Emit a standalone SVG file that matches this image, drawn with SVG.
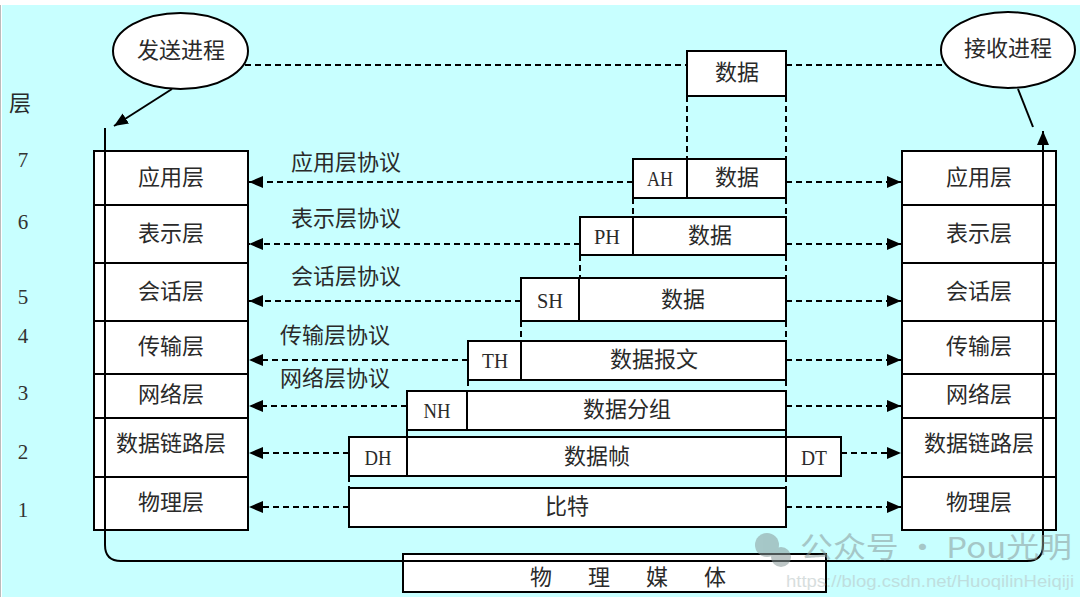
<svg xmlns="http://www.w3.org/2000/svg" width="1080" height="597" viewBox="0 0 1080 597">
<defs>
<marker id="ah" markerUnits="userSpaceOnUse" markerWidth="16" markerHeight="14" refX="14" refY="6" orient="auto">
<path d="M0,0 L14,6 L0,12 Z" fill="#000"/>
</marker>
</defs>
<style>
.box{fill:#fff;stroke:#000;stroke-width:2}
.div{stroke:#000;stroke-width:2}
.dash{stroke:#000;stroke-width:2;stroke-dasharray:6 4;fill:none}
.arr{stroke:#000;stroke-width:2;stroke-dasharray:6 4;fill:none;marker-end:url(#ah)}
.cj{font-family:"Noto Sans CJK SC","Noto Sans",sans-serif;font-size:22px;fill:#2a2a2a;text-anchor:middle;dominant-baseline:central}
.sf{font-family:"Liberation Serif",serif;font-size:22px;fill:#2a2a2a;text-anchor:middle;dominant-baseline:central}
.num{font-family:"Liberation Serif",serif;font-size:21px;fill:#333;text-anchor:middle;dominant-baseline:central}
.ln{stroke:#000;stroke-width:2;fill:none}
</style>
<rect x="0" y="0" width="1080" height="597" fill="#fff"/>
<rect x="2" y="5" width="1078" height="592" fill="#C8FFFF"/>
<line x1="0.5" y1="5" x2="0.5" y2="597" stroke="#bbb" stroke-width="1"/>

<g id="layer-axis">
<text class="cj" x="20" y="101">层</text>
<text class="num" x="23" y="160">7</text>
<text class="num" x="23" y="222">6</text>
<text class="num" x="23" y="297">5</text>
<text class="num" x="23" y="336">4</text>
<text class="num" x="23" y="393">3</text>
<text class="num" x="23" y="452">2</text>
<text class="num" x="23" y="510">1</text>
</g>

<g id="send-process">
<ellipse cx="180.5" cy="51" rx="67.5" ry="38" fill="#fff" stroke="#000" stroke-width="2"/>
<text class="cj" x="181" y="48">发送进程</text>
</g>
<g id="recv-process">
<ellipse cx="1008" cy="50" rx="67" ry="38" fill="#fff" stroke="#000" stroke-width="2"/>
<text class="cj" x="1008" y="46">接收进程</text>
</g>

<g id="left-stack">
<rect class="box" x="94" y="151" width="154" height="379"/>
<line class="div" x1="94" y1="205" x2="248" y2="205"/>
<line class="div" x1="94" y1="263" x2="248" y2="263"/>
<line class="div" x1="94" y1="321" x2="248" y2="321"/>
<line class="div" x1="94" y1="374" x2="248" y2="374"/>
<line class="div" x1="94" y1="418" x2="248" y2="418"/>
<line class="div" x1="94" y1="477" x2="248" y2="477"/>
<text class="cj" x="171" y="175">应用层</text>
<text class="cj" x="171" y="231">表示层</text>
<text class="cj" x="171" y="289">会话层</text>
<text class="cj" x="171" y="344">传输层</text>
<text class="cj" x="171" y="392">网络层</text>
<text class="cj" x="171" y="441">数据链路层</text>
<text class="cj" x="171" y="500">物理层</text>
</g>

<g id="right-stack">
<rect class="box" x="902" y="151" width="154" height="379"/>
<line class="div" x1="902" y1="205" x2="1056" y2="205"/>
<line class="div" x1="902" y1="263" x2="1056" y2="263"/>
<line class="div" x1="902" y1="321" x2="1056" y2="321"/>
<line class="div" x1="902" y1="374" x2="1056" y2="374"/>
<line class="div" x1="902" y1="418" x2="1056" y2="418"/>
<line class="div" x1="902" y1="477" x2="1056" y2="477"/>
<text class="cj" x="979" y="175">应用层</text>
<text class="cj" x="979" y="231">表示层</text>
<text class="cj" x="979" y="289">会话层</text>
<text class="cj" x="979" y="344">传输层</text>
<text class="cj" x="979" y="392">网络层</text>
<text class="cj" x="979" y="441">数据链路层</text>
<text class="cj" x="979" y="500">物理层</text>
</g>

<g id="medium">
<rect class="box" x="403" y="554" width="423" height="38"/>
<text class="cj" x="541 599 657 715" y="575">物理媒体</text>
</g>

<g id="pdu-data">
<rect class="box" x="687" y="51" width="99" height="45"/>
<text class="cj" x="737" y="70">数据</text>
</g>
<g id="pdu-ah">
<rect class="box" x="633" y="159" width="153" height="39"/>
<line class="div" x1="687" y1="159" x2="687" y2="198"/>
<text class="sf" x="660" y="178" textLength="26" lengthAdjust="spacingAndGlyphs">AH</text>
<text class="cj" x="737" y="175">数据</text>
</g>
<g id="pdu-ph">
<rect class="box" x="580" y="217" width="206" height="38"/>
<line class="div" x1="633" y1="217" x2="633" y2="255"/>
<text class="sf" x="607" y="236" textLength="26" lengthAdjust="spacingAndGlyphs">PH</text>
<text class="cj" x="710" y="233">数据</text>
</g>
<g id="pdu-sh">
<rect class="box" x="521" y="278" width="265" height="43"/>
<line class="div" x1="579" y1="278" x2="579" y2="321"/>
<text class="sf" x="550" y="300" textLength="26" lengthAdjust="spacingAndGlyphs">SH</text>
<text class="cj" x="683" y="297">数据</text>
</g>
<g id="pdu-th">
<rect class="box" x="468" y="341" width="318" height="39"/>
<line class="div" x1="521" y1="341" x2="521" y2="380"/>
<text class="sf" x="495" y="360" textLength="26" lengthAdjust="spacingAndGlyphs">TH</text>
<text class="cj" x="654" y="357">数据报文</text>
</g>
<g id="pdu-nh">
<rect class="box" x="407" y="391" width="379" height="39"/>
<line class="div" x1="467" y1="391" x2="467" y2="430"/>
<text class="sf" x="437" y="410" textLength="27" lengthAdjust="spacingAndGlyphs">NH</text>
<text class="cj" x="627" y="407">数据分组</text>
</g>
<g id="pdu-dh">
<rect class="box" x="349" y="437" width="492" height="39"/>
<line class="div" x1="407" y1="437" x2="407" y2="476"/>
<line class="div" x1="786" y1="437" x2="786" y2="476"/>
<text class="sf" x="378" y="457" textLength="27" lengthAdjust="spacingAndGlyphs">DH</text>
<text class="cj" x="597" y="454">数据帧</text>
<text class="sf" x="814" y="457" textLength="26" lengthAdjust="spacingAndGlyphs">DT</text>
</g>
<g id="pdu-bits">
<rect class="box" x="349" y="488" width="437" height="39"/>
<text class="cj" x="567" y="504">比特</text>
</g>

<g id="protocol-labels">
<text class="cj" x="346" y="160">应用层协议</text>
<text class="cj" x="346" y="216">表示层协议</text>
<text class="cj" x="346" y="274">会话层协议</text>
<text class="cj" x="335" y="333">传输层协议</text>
<text class="cj" x="335" y="376">网络层协议</text>
</g>

<g id="connectors">
<line class="dash" x1="245" y1="65" x2="687" y2="65"/>
<line class="dash" x1="786" y1="65" x2="945" y2="65"/>
<line class="dash" x1="687" y1="96" x2="687" y2="159"/>
<line class="dash" x1="786" y1="96" x2="786" y2="159"/>
<line class="dash" x1="633" y1="198" x2="633" y2="217"/>
<line class="dash" x1="786" y1="198" x2="786" y2="217"/>
<line class="dash" x1="580" y1="255" x2="580" y2="278"/>
<line class="dash" x1="786" y1="255" x2="786" y2="278"/>
<line class="dash" x1="521" y1="321" x2="521" y2="341"/>
<line class="dash" x1="786" y1="321" x2="786" y2="341"/>
<line class="dash" x1="468" y1="380" x2="468" y2="391"/>
<line class="dash" x1="786" y1="380" x2="786" y2="391"/>
<line class="dash" x1="407" y1="430" x2="407" y2="437"/>
<line class="dash" x1="786" y1="430" x2="786" y2="437"/>
<line class="dash" x1="349" y1="476" x2="349" y2="488"/>
<line class="dash" x1="786" y1="476" x2="786" y2="488"/>

<line class="arr" x1="633" y1="182" x2="249" y2="182"/>
<line class="arr" x1="786" y1="182" x2="901" y2="182"/>
<line class="arr" x1="580" y1="244" x2="249" y2="244"/>
<line class="arr" x1="786" y1="244" x2="901" y2="244"/>
<line class="arr" x1="521" y1="301" x2="249" y2="301"/>
<line class="arr" x1="786" y1="301" x2="901" y2="301"/>
<line class="arr" x1="468" y1="360" x2="249" y2="360"/>
<line class="arr" x1="786" y1="360" x2="901" y2="360"/>
<line class="arr" x1="407" y1="406" x2="249" y2="406"/>
<line class="arr" x1="786" y1="406" x2="901" y2="406"/>
<line class="arr" x1="349" y1="453" x2="249" y2="453"/>
<line class="arr" x1="841" y1="453" x2="901" y2="453"/>
<line class="arr" x1="349" y1="507" x2="249" y2="507"/>
<line class="arr" x1="786" y1="507" x2="901" y2="507"/>

<line class="ln" x1="172" y1="89" x2="114" y2="126" marker-end="url(#ah)"/>
<line class="ln" x1="1018" y1="89" x2="1033" y2="127"/>
<path class="ln" d="M105,128 L105,545 Q105,561 121,561 L1027,561 Q1043,561 1043,545 L1043,131" marker-end="url(#ah)"/>
</g>

<g id="watermark" opacity="0.55">
<circle cx="767" cy="545" r="12" fill="#8a9a9a"/>
<circle cx="781" cy="557" r="10" fill="#8a9a9a"/>
<text x="800" y="558" font-family="'Noto Sans CJK SC','Noto Sans',sans-serif" font-size="29" fill="#8a9a9a" textLength="272" lengthAdjust="spacingAndGlyphs">公众号 · Pou光明</text>
<text x="786" y="587" font-family="'Liberation Sans',sans-serif" font-size="16" fill="#b8c4c4" textLength="288" lengthAdjust="spacingAndGlyphs">https://blog.csdn.net/HuoqilinHeiqiji</text>
</g>
</svg>
